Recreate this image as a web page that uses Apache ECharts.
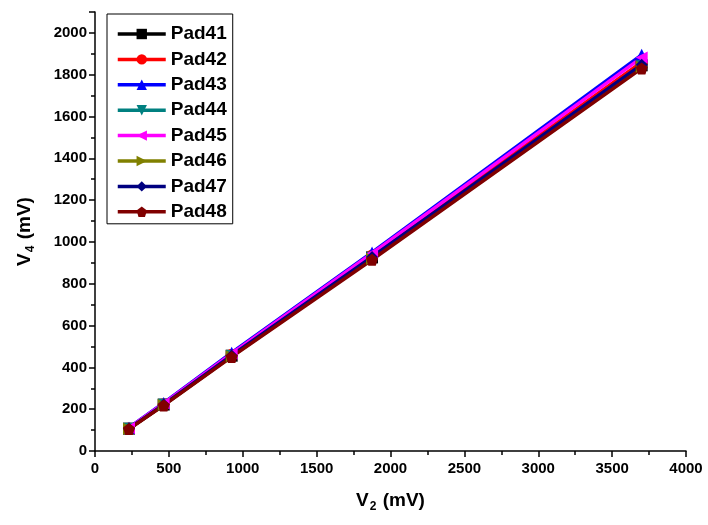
<!DOCTYPE html>
<html>
<head>
<meta charset="utf-8">
<script src="https://cdn.jsdelivr.net/npm/echarts@6/dist/echarts.min.js"></script>
<style>
  html, body { margin: 0; padding: 0; background: #fff; }
  #chart { width: 708px; height: 525px; }
</style>
</head>
<body>
<div id="chart"></div>
<script>
// V4 vs V2 for pads 41..48
var v2 = [230, 465, 925, 1875, 3700];

var pad41 = [107, 222, 456, 926, 1845];
var pad42 = [108, 224, 460, 935, 1860];
var pad43 = [111, 230, 470, 950, 1895];
var pad44 = [107, 221, 455, 924, 1840];
var pad45 = [110, 228, 466, 945, 1882];
var pad46 = [106, 220, 453, 920, 1838];
var pad47 = [107, 222, 457, 928, 1848];
var pad48 = [105, 218, 450, 915, 1830];

var names = ['Pad41', 'Pad42', 'Pad43', 'Pad44', 'Pad45', 'Pad46', 'Pad47', 'Pad48'];
var values = [pad41, pad42, pad43, pad44, pad45, pad46, pad47, pad48];
var colors = ['#000000', '#ff0000', '#0000ff', '#008080', '#ff00ff', '#808000', '#000080', '#800000'];
var symbols = [
  'rect',
  'circle',
  'triangle',
  'path://M0,0 L10,0 L5,9 Z',
  'path://M0,5 L9,0 L9,10 Z',
  'path://M0,0 L9,5 L0,10 Z',
  'diamond',
  'path://M5,0 L10,3.8 L8.1,10 L1.9,10 L0,3.8 Z'
];

var chart = echarts.init(document.getElementById('chart'), null, { renderer: 'canvas' });

var _font = '"Liberation Sans", Arial, sans-serif';
var _axisLabel = {
  color: '#000', fontSize: 15, fontWeight: 'bold', fontFamily: _font,
  formatter: function (v) { return String(v); }
};
var _nameRich = {
  a: { fontSize: 19, fontWeight: 'bold', fontFamily: _font, color: '#000', lineHeight: 24 },
  sub: { fontSize: 12, fontWeight: 'bold', fontFamily: _font, color: '#000', lineHeight: 12, padding: [12, 1, 0, 1] }
};

var series = names.map(function (n, i) {
  return {
    name: n,
    type: 'line',
    data: v2.map(function (x, j) { return [x, values[i][j]]; }),
    symbol: symbols[i],
    symbolSize: 12,
    showAllSymbol: true,
    lineStyle: { width: 3.5, color: colors[i] },
    itemStyle: { color: colors[i] }
  };
});

chart.setOption({
  backgroundColor: '#fff',
  animation: false,
  grid: { left: 95, right: 22, top: 12, bottom: 74 },
  legend: {
    orient: 'vertical',
    left: 107,
    top: 14,
    padding: [10, 6, 2, 9],
    itemWidth: 48,
    itemHeight: 13,
    itemGap: 5.4,
    borderColor: '#000',
    borderWidth: 1,
    backgroundColor: '#fff',
    lineStyle: { width: 3.5 },
    textStyle: { color: '#000', fontSize: 19, fontWeight: 'bold', fontFamily: _font, lineHeight: 20, padding: [0, 0, 0, 0] },
    data: names
  },
  xAxis: {
    type: 'value',
    min: 0,
    max: 4000,
    interval: 500,
    name: '{a|V}{sub|2}{a| (mV)}',
    nameLocation: 'middle',
    nameGap: 38,
    nameTextStyle: { rich: _nameRich },
    axisLine: { onZero: false, lineStyle: { color: '#000', width: 1.5 } },
    axisTick: { length: 6, lineStyle: { color: '#000', width: 1.5 } },
    minorTick: { show: true, splitNumber: 2, length: 4, lineStyle: { color: '#000', width: 1.5 } },
    axisLabel: Object.assign({ margin: 10 }, _axisLabel),
    splitLine: { show: false }
  },
  yAxis: {
    type: 'value',
    min: 0,
    max: 2100,
    interval: 200,
    name: '{a|V}{sub|4}{a| (mV)}',
    nameLocation: 'middle',
    nameGap: 58,
    nameTextStyle: { rich: _nameRich },
    axisLine: { onZero: false, lineStyle: { color: '#000', width: 1.5 } },
    axisTick: { length: 6, lineStyle: { color: '#000', width: 1.5 } },
    minorTick: { show: true, splitNumber: 2, length: 4, lineStyle: { color: '#000', width: 1.5 } },
    axisLabel: Object.assign({ showMaxLabel: false }, _axisLabel),
    splitLine: { show: false }
  },
  series: series
});
</script>
</body>
</html>
